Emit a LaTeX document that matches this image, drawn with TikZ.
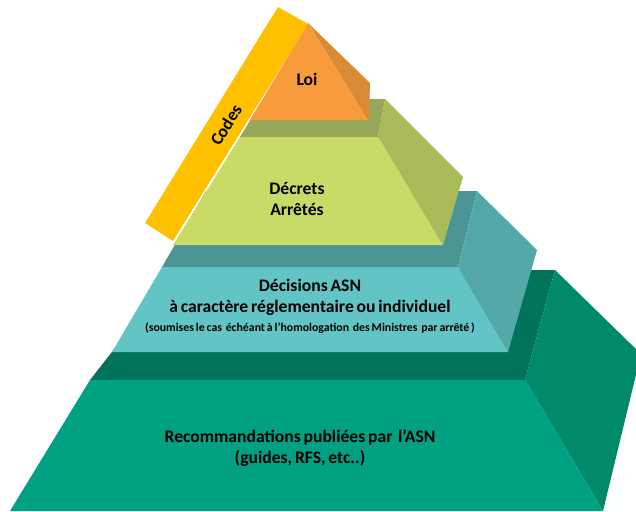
\documentclass[tikz,border=0pt]{standalone}
\usepackage{fontspec}
\setmainfont[WordSpace=0.7]{Carlito}
\definecolor{loifront}{HTML}{F79B3C}
\definecolor{loiside}{HTML}{D98B36}
\definecolor{dectop}{HTML}{98A85A}
\definecolor{decfront}{HTML}{C9DA66}
\definecolor{decside}{HTML}{A9BB58}
\definecolor{asntop}{HTML}{4C9595}
\definecolor{asnfront}{HTML}{62C4C4}
\definecolor{asnside}{HTML}{55A8A8}
\definecolor{recotop}{HTML}{00745A}
\definecolor{recofront}{HTML}{00A082}
\definecolor{recoside}{HTML}{008A6A}
\definecolor{codesbar}{HTML}{FFC000}
\tikzset{
  label/.style={font=\bfseries\fontsize{17.6}{21}\selectfont,align=center,inner sep=0pt},
  smalllabel/.style={font=\bfseries\fontsize{11.8}{13}\selectfont,align=center,inner sep=0pt}
}
\begin{document}
\begin{tikzpicture}[x=1pt,y=-1pt]
\useasboundingbox (0,0) rectangle (636,511);
\clip (0,0) rectangle (636,511);
% bottom tier
\fill[recotop] (90,380) -- (525,380) -- (555,270) -- (176,270) -- cycle;
\fill[recoside] (555,270) -- (641,354) -- (603,511) -- (525,380) -- cycle;
\fill[recofront] (90,380) -- (525,380) -- (603,511) -- (10,511) -- cycle;
% ASN tier
\fill[asntop] (162,267) -- (458,267) -- (477,191) -- (206,191) -- cycle;
\fill[asnside] (477,191) -- (537,250) -- (508,352) -- (458,267) -- cycle;
\fill[asnfront] (162,267) -- (458,267) -- (508,352) -- (112,352) -- cycle;
% decrets tier
\fill[dectop] (240,137) -- (378,137) -- (385,99) -- (263,99) -- cycle;
\fill[decside] (385,99) -- (463,177) -- (443,245) -- (378,137) -- cycle;
\fill[decfront] (240,137) -- (378,137) -- (443,245) -- (173,245) -- cycle;
% top
\fill[loiside] (308,23) -- (370,83) -- (369,118) -- (368,120) -- cycle;
\fill[loifront] (308,23) -- (368,120) -- (250,120) -- cycle;
\fill[codesbar] (278,7) -- (308,24) -- (173,241) -- (145,223) -- cycle;
\node[label] (loi) at (307,79) {Loi};
\node[label,rotate=58] (codes) at (226,125) {Codes};
\node[label] (decrets) at (297,199) {Décrets\\Arrêtés};
\node[label] (decisions) at (310,297) {Décisions ASN\\à caractère réglementaire ou individuel};
\node[smalllabel] (homolog) at (310,328) {(soumises le cas\ \ échéant à l’homologation\ \ des Ministres\ \ par arrêté )};
\node[label] (reco) at (300,448) {Recommandations publiées par\ \ l’ASN\\(guides, RFS, etc..)};
\end{tikzpicture}
\end{document}
